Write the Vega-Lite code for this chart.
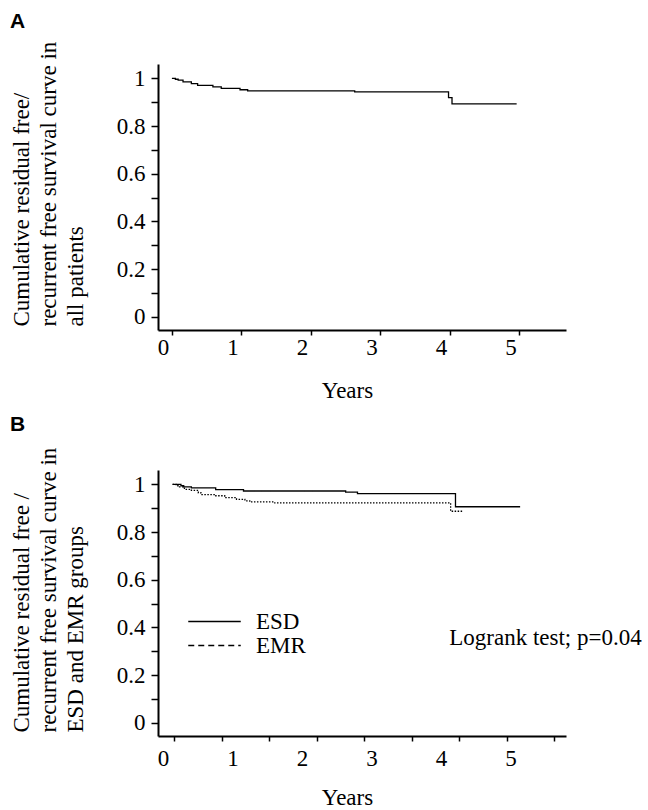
{
  "$schema": "https://vega.github.io/schema/vega-lite/v6.json",
  "padding": {"left": 10, "top": 11, "right": 0, "bottom": 0},
  "background": "white",
  "spacing": 12,
  "config": {
    "view": {"stroke": null},
    "font": "Liberation Serif",
    "axis": {
      "domainColor": "black", "domainWidth": 2, "tickColor": "black", "tickWidth": 1.5,
      "labelColor": "black", "labelFont": "Liberation Serif", "labelFontSize": 23,
      "titleColor": "black", "titleFont": "Liberation Serif", "titleFontSize": 23, "titleFontWeight": "normal",
      "grid": false, "labelOverlap": false, "labelBound": false, "labelFlush": false, "tickCount": 30
    }
  },
  "datasets": {
    "all": [
      {"t": 0, "s": 1.0}, {"t": 0.05, "s": 0.996}, {"t": 0.09, "s": 0.992}, {"t": 0.16, "s": 0.985},
      {"t": 0.28, "s": 0.978}, {"t": 0.37, "s": 0.970}, {"t": 0.59, "s": 0.964}, {"t": 0.71, "s": 0.958},
      {"t": 0.98, "s": 0.952}, {"t": 1.09, "s": 0.947}, {"t": 2.63, "s": 0.943}, {"t": 3.98, "s": 0.919},
      {"t": 4.03, "s": 0.893}, {"t": 4.96, "s": 0.893}
    ],
    "groups": [
      {"g": "ESD", "t": 0.01, "s": 1.0}, {"g": "ESD", "t": 0.13, "s": 0.994}, {"g": "ESD", "t": 0.17, "s": 0.989},
      {"g": "ESD", "t": 0.28, "s": 0.985}, {"g": "ESD", "t": 0.63, "s": 0.978}, {"g": "ESD", "t": 1.03, "s": 0.972},
      {"g": "ESD", "t": 2.50, "s": 0.967}, {"g": "ESD", "t": 2.67, "s": 0.961}, {"g": "ESD", "t": 4.08, "s": 0.906},
      {"g": "ESD", "t": 5.01, "s": 0.906},
      {"g": "EMR", "t": 0.01, "s": 1.0}, {"g": "EMR", "t": 0.06, "s": 0.994}, {"g": "EMR", "t": 0.11, "s": 0.989},
      {"g": "EMR", "t": 0.18, "s": 0.979}, {"g": "EMR", "t": 0.28, "s": 0.975}, {"g": "EMR", "t": 0.38, "s": 0.964},
      {"g": "EMR", "t": 0.42, "s": 0.957}, {"g": "EMR", "t": 0.62, "s": 0.952}, {"g": "EMR", "t": 0.76, "s": 0.944},
      {"g": "EMR", "t": 0.93, "s": 0.937}, {"g": "EMR", "t": 1.05, "s": 0.931}, {"g": "EMR", "t": 1.12, "s": 0.926},
      {"g": "EMR", "t": 1.48, "s": 0.922}, {"g": "EMR", "t": 4.01, "s": 0.887}, {"g": "EMR", "t": 4.18, "s": 0.887}
    ],
    "note": [{"t": 3.99, "s": 0.325, "label": "Logrank test; p=0.04"}]
  },
  "vconcat": [
    {
      "title": {"text": "A", "anchor": "start", "frame": "bounds", "font": "Liberation Sans", "fontSize": 21, "fontWeight": "bold", "color": "black", "offset": 9},
      "width": 408, "height": 266,
      "data": {"name": "all"},
      "mark": {"type": "line", "interpolate": "step-after", "color": "black", "strokeWidth": 1.3},
      "encoding": {
        "x": {
          "field": "t", "type": "quantitative",
          "scale": {"domain": [-0.2, 5.67], "nice": false, "zero": false},
          "axis": {"values": [0, 1, 2, 3, 4, 5], "format": "d", "tickSize": 5, "labelPadding": 1, "labelOffset": -9, "labelOverlap": false, "tickCount": 30,
                   "title": "Years", "titleX": 189, "titleY": 67, "titleBaseline": "alphabetic", "titleAlign": "center"}
        },
        "y": {
          "field": "s", "type": "quantitative",
          "scale": {"domain": [-0.055, 1.06], "nice": false, "zero": false},
          "axis": {
            "values": [0, 0.1, 0.2, 0.3, 0.4, 0.5, 0.6, 0.7, 0.8, 0.9, 1],
            "labelExpr": "round(datum.value*10) % 2 === 0 ? format(datum.value, '~g') : ''",
            "tickSize": 7, "labelPadding": 6, "labelOverlap": false, "tickCount": 30,
            "encode": {"ticks": {"update": {"x2": {"signal": "round(datum.value*10) % 2 === 1 ? -4 : -7"}}}},
            "title": ["Cumulative residual free/", "recurrent free survival curve in", "all patients"],
            "titleAngle": -90, "titleAlign": "left", "titleBaseline": "top", "titleX": -148, "titleY": 262, "titleLineHeight": 27
          }
        }
      }
    },
    {
      "title": {"text": "B", "anchor": "start", "frame": "bounds", "font": "Liberation Sans", "fontSize": 21, "fontWeight": "bold", "color": "black", "offset": 12},
      "width": 408, "height": 266,
      "layer": [
        {
          "data": {"name": "groups"},
          "mark": {"type": "line", "interpolate": "step-after", "color": "black", "strokeWidth": 1.3},
          "encoding": {
            "x": {
              "field": "t", "type": "quantitative",
              "scale": {"domain": [-0.2, 5.67], "nice": false, "zero": false},
              "axis": {
                "values": [0, 0.03, 0.714, 1, 1.398, 2, 2.082, 2.766, 3, 3.45, 4, 4.134, 4.818, 5, 5.502],
                "labelExpr": "datum.value % 1 === 0 ? format(datum.value, 'd') : ''",
                "labelOverlap": false, "tickCount": 30,
                "tickOpacity": {"condition": {"test": "datum.value % 1 === 0", "value": 0}, "value": 1},
                "tickSize": 5, "labelPadding": 6, "labelOffset": -9,
                "title": "Years", "titleX": 189, "titleY": 68, "titleBaseline": "alphabetic", "titleAlign": "center"
              }
            },
            "y": {
              "field": "s", "type": "quantitative",
              "scale": {"domain": [-0.055, 1.06], "nice": false, "zero": false},
              "axis": {
                "values": [0, 0.1, 0.2, 0.3, 0.4, 0.5, 0.6, 0.7, 0.8, 0.9, 1],
                "labelExpr": "round(datum.value*10) % 2 === 0 ? format(datum.value, '~g') : ''",
                "tickSize": 7, "labelPadding": 6, "labelOverlap": false, "tickCount": 30,
                "encode": {"ticks": {"update": {"x2": {"signal": "round(datum.value*10) % 2 === 1 ? -4 : -7"}}}},
                "title": ["Cumulative residual free /", "recurrent free survival curve in", "ESD and EMR groups"],
                "titleAngle": -90, "titleAlign": "left", "titleBaseline": "top", "titleX": -148, "titleY": 262, "titleLineHeight": 27
              }
            },
            "strokeDash": {
              "field": "g", "type": "nominal",
              "condition": {"test": "datum.g === 'EMR'", "value": [1.5, 1.5]},
              "scale": {"domain": ["ESD", "EMR"], "range": [[1, 0], [6, 4]]},
              "legend": {
                "orient": "none", "legendX": 45, "legendY": 546, "title": null, "padding": 0,
                "symbolType": "M-2.5,0H2.5", "symbolSize": 441, "symbolStrokeWidth": 1.5, "symbolStrokeColor": "black",
                "labelFont": "Liberation Serif", "labelFontSize": 23, "labelColor": "black", "labelOffset": 30, "rowPadding": -5
              }
            }
          }
        },
        {
          "data": {"name": "note"},
          "mark": {"type": "text", "align": "left", "baseline": "alphabetic", "fontSize": 23, "font": "Liberation Serif", "color": "black"},
          "encoding": {
            "x": {"field": "t", "type": "quantitative"},
            "y": {"field": "s", "type": "quantitative"},
            "text": {"field": "label"}
          }
        }
      ]
    }
  ]
}
